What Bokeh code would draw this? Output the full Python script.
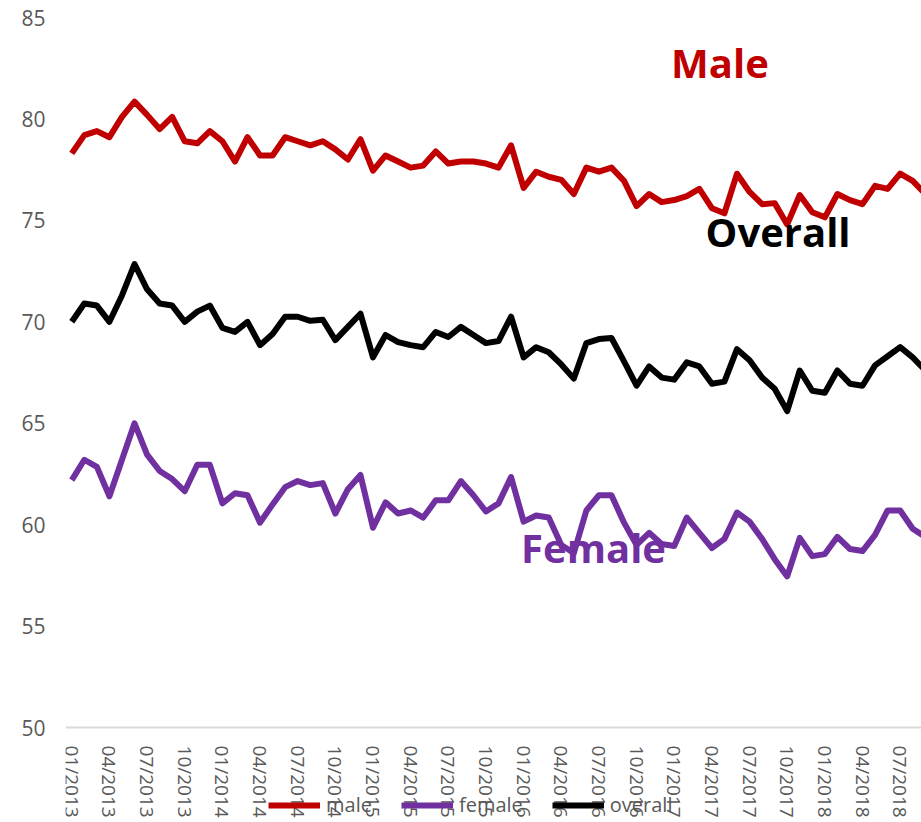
from bokeh.plotting import figure
from bokeh.models import Range1d, FixedTicker, ColumnDataSource
from bokeh.core.properties import value
from bokeh.embed import file_html
from bokeh.resources import INLINE

# monthly index 0 = 01/2013
male = [78.3, 79.2, 79.4, 79.1, 80.1, 80.85, 80.2, 79.5, 80.1, 78.9, 78.8, 79.4, 78.9, 77.9, 79.1, 78.2,
        78.2, 79.1, 78.9, 78.7, 78.9, 78.5, 78.0, 79.0, 77.45, 78.2, 77.9, 77.6, 77.7, 78.4,
        77.8, 77.9, 77.9, 77.8, 77.6, 78.7, 76.6, 77.4, 77.15, 77.0, 76.3, 77.6, 77.4, 77.6,
        76.95, 75.7, 76.3, 75.9, 76.0, 76.2, 76.55, 75.6, 75.35, 77.3, 76.4, 75.8, 75.85, 74.8,
        76.25, 75.4, 75.15, 76.3, 76.0, 75.8, 76.7, 76.55, 77.3, 76.95, 76.3]
female = [62.2, 63.2, 62.85, 61.4, 63.2, 65.0, 63.45, 62.65, 62.25, 61.65, 62.95, 62.95, 61.05, 61.55,
          61.45, 60.1, 61.0, 61.85, 62.15, 61.95, 62.05, 60.55, 61.75, 62.45, 59.85, 61.1, 60.55,
          60.7, 60.35, 61.2, 61.2, 62.15, 61.45, 60.65, 61.05, 62.35, 60.15, 60.45, 60.35, 59.0,
          58.6, 60.7, 61.45, 61.45, 60.1, 59.0, 59.6, 59.05, 58.95, 60.35, 59.6, 58.85, 59.3, 60.6,
          60.15, 59.3, 58.3, 57.45, 59.35, 58.45, 58.55, 59.4, 58.8, 58.7, 59.5, 60.7, 60.7, 59.8, 59.4]
overall = [70.0, 70.9, 70.8, 70.0, 71.3, 72.85, 71.6, 70.9, 70.8, 70.0, 70.5, 70.8, 69.7, 69.5, 70.0,
           68.85, 69.4, 70.25, 70.25, 70.05, 70.1, 69.1, 69.75, 70.4, 68.25, 69.35, 69.0, 68.85,
           68.75, 69.5, 69.25, 69.75, 69.35, 68.95, 69.05, 70.25, 68.25, 68.75, 68.5, 67.9, 67.2,
           68.95, 69.15, 69.2, 68.05, 66.85, 67.8, 67.25, 67.15, 68.0, 67.8, 66.95, 67.05, 68.65,
           68.1, 67.25, 66.7, 65.6, 67.6, 66.6, 66.5, 67.6, 66.95, 66.85, 67.85, 68.3, 68.75, 68.25, 67.6]

tick_positions = [0, 3, 6, 9, 12, 15, 18, 21, 24, 27, 30, 33, 36, 39, 42, 45, 48, 51, 54, 57, 60, 63, 66]
tick_labels = ["01/2013", "04/2013", "07/2013", "10/2013", "01/2014", "04/2014", "07/2014", "10/2014",
               "01/2015", "04/2015", "07/2015", "10/2015", "01/2016", "04/2016", "07/2016", "10/2016",
               "01/2017", "04/2017", "07/2017", "10/2017", "01/2018", "04/2018", "07/2018"]
y_ticks = [50, 55, 60, 65, 70, 75, 80, 85]

# series name labels: (text, month index, value)
label_text = ["Male", "Overall", "Female"]
label_x = [47.75, 50.5, 35.8]
label_y = [82.8, 74.45, 58.88]
label_color = ["#C00000", "#000000", "#7030A0"]

month_idx = list(range(len(male)))

p = figure(width=921, height=822, output_backend="svg", toolbar_location=None,
           x_range=Range1d(-0.5, 67.7), y_range=Range1d(45.32, 85),
           min_border_left=65, min_border_right=0, min_border_top=17, min_border_bottom=0)
p.outline_line_color = None
p.xgrid.visible = False
p.ygrid.visible = False

src = ColumnDataSource(dict(x=month_idx, male=male, female=female, overall=overall))
p.line("x", "male", source=src, line_color="#C00000", line_width=6, line_join="round", legend_label="male")
p.line("x", "female", source=src, line_color="#7030A0", line_width=6, line_join="round", legend_label="female")
p.line("x", "overall", source=src, line_color="#000000", line_width=6, line_join="round", legend_label="overall")

lsrc = ColumnDataSource(dict(x=label_x, y=label_y, t=label_text, c=label_color))
p.text("x", "y", text="t", source=lsrc, text_color="c", text_font=value("Open Sans"),
       text_font_style="bold", text_font_size="40px", text_align="left", text_baseline="alphabetic")

xa = p.xaxis[0]
xa.fixed_location = 50
xa.ticker = FixedTicker(ticks=tick_positions)
xa.major_label_overrides = {pos: lab for pos, lab in zip(tick_positions, tick_labels)}
xa.major_label_orientation = "vertical"
xa.major_tick_line_color = None
xa.minor_tick_line_color = None
xa.major_tick_out = 0
xa.major_tick_in = 0
xa.axis_line_color = "#d9d9d9"
xa.axis_line_width = 2
xa.major_label_text_font = "Open Sans"
xa.major_label_text_font_size = "19px"
xa.major_label_text_color = "#595959"
xa.major_label_standoff = 18

ya = p.yaxis[0]
ya.ticker = FixedTicker(ticks=y_ticks)
ya.axis_line_color = None
ya.major_tick_line_color = None
ya.minor_tick_line_color = None
ya.major_tick_out = 0
ya.major_tick_in = 0
ya.major_label_text_font = "Open Sans"
ya.major_label_text_font_size = "21px"
ya.major_label_text_color = "#595959"
ya.major_label_standoff = 20

lg = p.legend[0]
lg.orientation = "horizontal"
lg.location = (203, 4)
lg.padding = 0
lg.margin = 0
lg.spacing = 29
lg.glyph_width = 52
lg.glyph_height = 20
lg.label_height = 20
lg.label_standoff = 6
lg.label_text_font = "Open Sans"
lg.label_text_font_size = "20px"
lg.label_text_color = "#595959"
lg.background_fill_alpha = 0
lg.border_line_color = None

open("out.html", "w").write(file_html(p, INLINE))
